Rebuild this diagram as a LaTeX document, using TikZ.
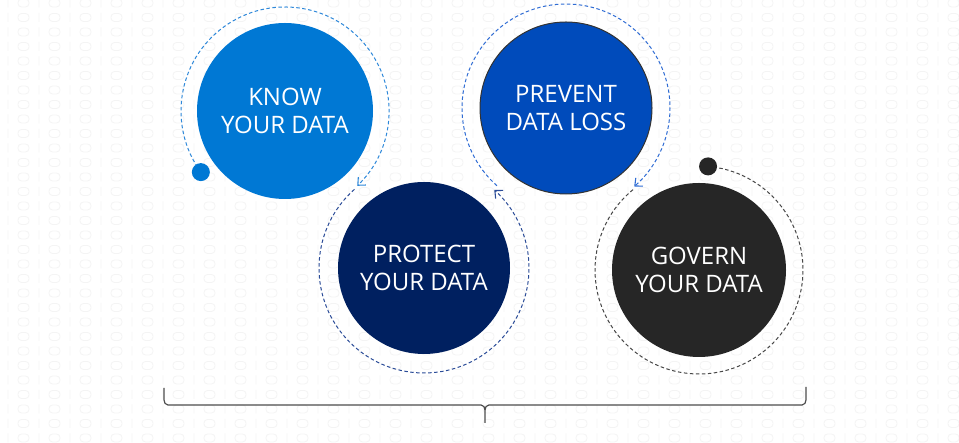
\documentclass[tikz,border=0pt]{standalone}
\usepackage{fontspec}
\setmainfont{Open Sans}
\usetikzlibrary{arrows.meta}
\definecolor{knowfill}{HTML}{0078D4}
\definecolor{knowring}{HTML}{2E88DA}
\definecolor{prevfill}{HTML}{004BBB}
\definecolor{prevring}{HTML}{2F6CD4}
\definecolor{protfill}{HTML}{002060}
\definecolor{protring}{HTML}{2B4C98}
\definecolor{govfill}{HTML}{262626}
\definecolor{govring}{HTML}{474747}
\definecolor{bgglyph}{HTML}{F4F4F4}
\definecolor{bracec}{HTML}{4D4D4D}
\begin{document}
\begin{tikzpicture}[x=1pt,y=1pt,
  bgpat/.style={draw=bgglyph, line width=0.8pt, rounded corners=3.5pt},
  bigc/.style={circle, inner sep=0pt, text=white, align=center,
    font=\fontsize{24}{28}\selectfont},
  ring/.style={dash pattern=on 3.5pt off 2.5pt, line width=1pt},
  tip/.style={-{Straight Barb[length=6pt,width=11pt,line width=1.1pt]}},
  dotc/.style={circle, minimum size=18pt, inner sep=0pt},
  brace/.style={draw=bracec, line width=1.2pt}]
\useasboundingbox (0,0) rectangle (959,443);
\fill[white] (0,0) rectangle (959,443);
% background binary pattern
\foreach \r in {0,...,30}{
  \pgfmathsetmacro\yy{440-14.5*\r}
  \draw[bgpat] \foreach \c in {0,...,30}{
    ({8+31*\c},{\yy-4.5}) -- ({8+31*\c},{\yy+4.5})
    ({18+31*\c},{\yy-4}) rectangle ({29+31*\c},{\yy+4}) };
}
% main circles
\node[bigc, fill=knowfill, minimum size=176pt] (K) at (285,332) {KNOW\\YOUR DATA};
\node[bigc, fill=prevfill, draw=black!80, line width=1pt, minimum size=172pt] (V) at (566,335) {PREVENT\\DATA LOSS};
\node[bigc, fill=protfill, minimum size=172pt] (P) at (424,175) {PROTECT\\YOUR DATA};
\node[bigc, fill=govfill, minimum size=174pt] (G) at (699,173) {GOVERN\\YOUR DATA};
% start point of the flow
\coordinate (kstart) at ([shift={(216:104pt)}]K.center);
% dashed flow rings
\draw[ring, draw=knowring, tip, knowring] (kstart) arc[start angle=216, end angle=-46, radius=104pt];
\draw[ring, draw=protring, tip, protring] ([shift={(131.5:105pt)}]P.center) arc[start angle=131.5, end angle=408, radius=105pt];
\draw[ring, draw=prevring, tip, prevring] ([shift={(228.4:104pt)}]V.center) arc[start angle=228.4, end angle=-49, radius=104pt];
\draw[ring, draw=govring] ([shift={(129.4:104pt)}]G.center) arc[start angle=129.4, end angle=445, radius=104pt] coordinate (gend);
\node[dotc, fill=knowfill] (kdot) at (kstart) {};
\node[dotc, fill=govfill] (gdot) at (gend) {};
% bottom brace
\coordinate (bl) at (164,55);
\coordinate (br) at (806,56);
\coordinate (bt) at (485,20);
\draw[brace] (bl) -- (164,43) to[out=-90,in=180] (168,38) -- (481,38) to[out=0,in=90] (485,33) -- (bt);
\draw[brace] (485,33) to[out=90,in=180] (489,38) -- (802,38) to[out=0,in=-90] (806,43) -- (br);
\end{tikzpicture}
\end{document}
